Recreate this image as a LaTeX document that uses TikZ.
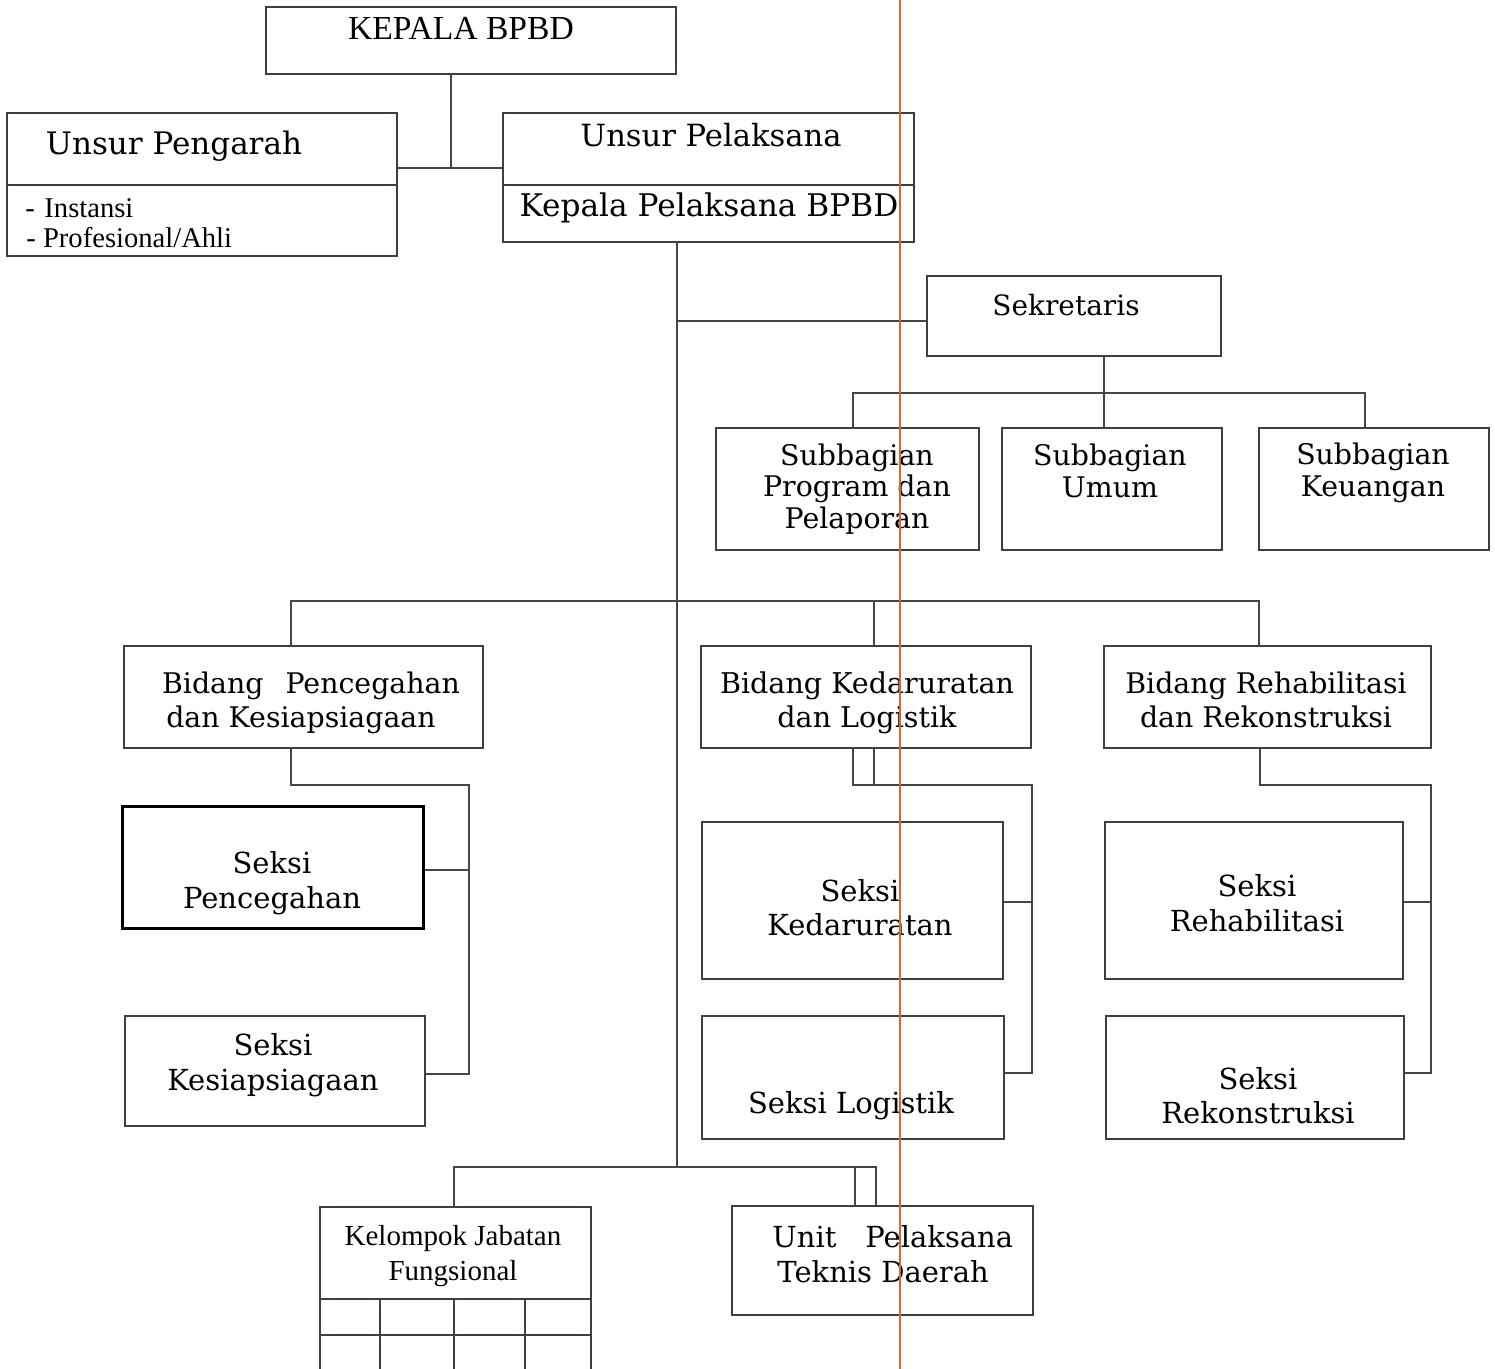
\documentclass[tikz,border=0pt]{standalone}
\usepackage{fontspec}
\setmainfont{DejaVu Serif}
\newfontfamily\tms{Liberation Serif}
\definecolor{boxc}{HTML}{3A4048}
\definecolor{linec}{HTML}{3E4A42}
\definecolor{orangec}{HTML}{E0622C}
\begin{document}
\begin{tikzpicture}[x=0.5pt,y=-0.5pt,
  bx/.style 2 args={draw=boxc,line width=0.75pt,rectangle,inner sep=0pt,minimum width=#1*0.5pt,minimum height=#2*0.5pt},
  con/.style={draw=linec,line width=0.7pt},
  txt/.style={inner sep=0pt,align=center,font=\fontsize{14.5}{17}\selectfont},
  tinyt/.style={inner sep=0pt,align=left,font=\tms\fontsize{14.3}{15}\selectfont}]
\useasboundingbox (0,0) rectangle (1495,1369);
\clip (0,0) rectangle (1495,1369);
\fill[white] (0,0) rectangle (1495,1369);
% boxes
\node[bx={410}{67}] (kepala) at (471,40.5) {};
\node[bx={390}{143}] (pengarah) at (202,184.5) {};
\node[bx={411}{129}] (pelaksana) at (708.5,177.5) {};
\node[bx={294}{80}] (sek) at (1074,316) {};
\node[bx={263}{122}] (sub1) at (847.5,489) {};
\node[bx={220}{122}] (sub2) at (1112,489) {};
\node[bx={230}{122}] (sub3) at (1374,489) {};
\node[bx={359}{102}] (bid1) at (303.5,697) {};
\node[bx={330}{102}] (bid2) at (866,697) {};
\node[bx={327}{102}] (bid3) at (1267.5,697) {};
\node[bx={301}{122},draw=black,line width=1.5pt] (spen) at (272.5,867) {};
\node[bx={300}{110}] (skes) at (275,1071) {};
\node[bx={301}{157}] (sked) at (852.5,900.5) {};
\node[bx={302}{123}] (slog) at (853,1077.5) {};
\node[bx={298}{157}] (sreh) at (1254,900.5) {};
\node[bx={298}{123}] (srek) at (1255,1077.5) {};
\node[bx={271}{193}] (kjf) at (455.5,1303.5) {};
\node[bx={301}{109}] (upt) at (882.5,1260.5) {};
% dividers
\coordinate (dv) at (0,185);
\draw[boxc,line width=0.75pt] (pengarah.west |- dv) -- (pengarah.east |- dv);
\draw[boxc,line width=0.75pt] (pelaksana.west |- dv) -- (pelaksana.east |- dv);
\coordinate (g1) at (380,1299);
\coordinate (g2) at (454,1335);
\coordinate (g3) at (525,1369);
\draw[boxc,line width=0.75pt] (kjf.west |- g1) -- (kjf.east |- g1);
\draw[boxc,line width=0.75pt] (kjf.west |- g2) -- (kjf.east |- g2);
\draw[boxc,line width=0.75pt] (g1) -- (g1 |- kjf.south);
\draw[boxc,line width=0.75pt] (g2 |- g1) -- (g2 |- kjf.south);
\draw[boxc,line width=0.75pt] (g3 |- g1) -- (g3 |- kjf.south);
% texts
\node[txt,font=\tms\fontsize{16.8}{18}\selectfont] (tkepala) at (461,28) {KEPALA BPBD};
\node[txt,font=\fontsize{15.5}{17}\selectfont] (tpengarah) at (174,146) {Unsur Pengarah};
\node[tinyt,anchor=west] (tinst) at (25,208) {-\,\,Instansi};
\node[tinyt,anchor=west] (tprof) at (26,238) {- Profesional/Ahli};
\node[txt,font=\fontsize{15.3}{17}\selectfont] (tpel) at (711,135) {Unsur Pelaksana};
\node[txt,font=\fontsize{15.6}{17}\selectfont] (tkpel) at (709,208) {Kepala Pelaksana BPBD};
\node[txt,font=\fontsize{14}{17}\selectfont] (tsek) at (1066,305) {Sekretaris};
\node[txt,font=\fontsize{14.2}{15.75}\selectfont] (tsub1) at (857,489) {Subbagian\\Program dan\\Pelaporan};
\node[txt,font=\fontsize{14.2}{15.75}\selectfont] (tsub2) at (1110,471) {Subbagian\\Umum};
\node[txt,font=\fontsize{14.2}{15.75}\selectfont] (tsub3) at (1373,473) {Subbagian\\Keuangan};
\node[txt,font=\fontsize{14.2}{17}\selectfont] (tbid1) at (311,703) {Bidang\hspace{11pt}Pencegahan\\[0pt]\hspace*{-10pt}dan Kesiapsiagaan};
\node[txt,font=\fontsize{14.3}{17}\selectfont] (tbid2) at (867,703) {Bidang Kedaruratan\\dan Logistik};
\node[txt,font=\fontsize{14.2}{17}\selectfont] (tbid3) at (1266,700) {Bidang Rehabilitasi\\dan Rekonstruksi};
\node[txt,font=\fontsize{14.5}{17.5}\selectfont] (tspen) at (272,883) {Seksi\\Pencegahan};
\node[txt,font=\fontsize{14.5}{17.5}\selectfont] (tskes) at (273,1065) {Seksi\\Kesiapsiagaan};
\node[txt,font=\fontsize{14.5}{17}\selectfont] (tsked) at (860,908) {Seksi\\Kedaruratan};
\node[txt] (tslog) at (851,1106) {Seksi Logistik};
\node[txt,font=\fontsize{14.5}{17.5}\selectfont] (tsreh) at (1257,903) {Seksi\\Rehabilitasi};
\node[txt,font=\fontsize{14.5}{17}\selectfont] (tsrek) at (1258,1096) {Seksi\\Rekonstruksi};
\node[txt,font=\tms\fontsize{14.5}{17.5}\selectfont] (tkjf) at (453,1256) {Kelompok Jabatan\\Fungsional};
\node[txt,align=left,anchor=west,font=\fontsize{14.5}{17.5}\selectfont] (tupt) at (772,1254) {Unit\quad Pelaksana\\\hspace*{2.5pt}Teknis Daerah};
% connectors
\coordinate (j1) at (451,168);
\draw[con] (j1 |- kepala.south) -- (j1);
\draw[con] (pengarah.east |- j1) -- (pelaksana.west |- j1);
\coordinate (tx) at (677,1167);
\draw[con] (tx |- pelaksana.south) -- (tx);
\coordinate (sj) at (677,321);
\draw[con] (sj) -- (sj -| sek.west);
\coordinate (sb) at (1104,393);
\coordinate (s1) at (853,393);
\coordinate (s3) at (1365,393);
\draw[con] (sb |- sek.south) -- (sb |- sub2.north);
\draw[con] (s1 |- sub1.north) -- (s1) -- (s3) -- (s3 |- sub3.north);
\coordinate (b1) at (291,601);
\coordinate (b2) at (874,601);
\coordinate (b3) at (1259,601);
\draw[con] (b1 |- bid1.north) -- (b1) -- (b3) -- (b3 |- bid3.north);
\draw[con] (b2) -- (b2 |- bid2.north);
% bidang 1 bracket
\coordinate (c1) at (291,785);
\coordinate (r1) at (469,785);
\coordinate (r1b) at (469,1074);
\coordinate (r1a) at (469,870);
\draw[con] (c1 |- bid1.south) -- (c1) -- (r1) -- (r1b) -- (r1b -| skes.east);
\draw[con,line width=1.1pt] (r1a -| spen.east) -- (r1a);
% bidang 2 bracket
\coordinate (c2a) at (853,785);
\coordinate (c2b) at (874,785);
\coordinate (r2) at (1032,785);
\coordinate (r2a) at (1032,902);
\coordinate (r2b) at (1032,1073);
\draw[con] (c2a |- bid2.south) -- (c2a) -- (r2) -- (r2b) -- (r2b -| slog.east);
\draw[con] (c2b |- bid2.south) -- (c2b);
\draw[con] (r2a -| sked.east) -- (r2a);
% bidang 3 bracket
\coordinate (c3) at (1260,785);
\coordinate (r3) at (1431,785);
\coordinate (r3a) at (1431,902);
\coordinate (r3b) at (1431,1073);
\draw[con] (c3 |- bid3.south) -- (c3) -- (r3) -- (r3b) -- (r3b -| srek.east);
\draw[con] (r3a -| sreh.east) -- (r3a);
% bottom
\coordinate (k1) at (454,1167);
\coordinate (u1) at (855,1167);
\coordinate (u2) at (876,1167);
\draw[con] (kjf.north -| k1) -- (k1) -- (u2) -- (u2 |- upt.north);
\draw[con] (u1) -- (u1 |- upt.north);
% orange guide
\coordinate (og) at (900,0);
\draw[orangec,line width=1pt] (og) -- (og |- kjf.south);
\end{tikzpicture}
\end{document}
